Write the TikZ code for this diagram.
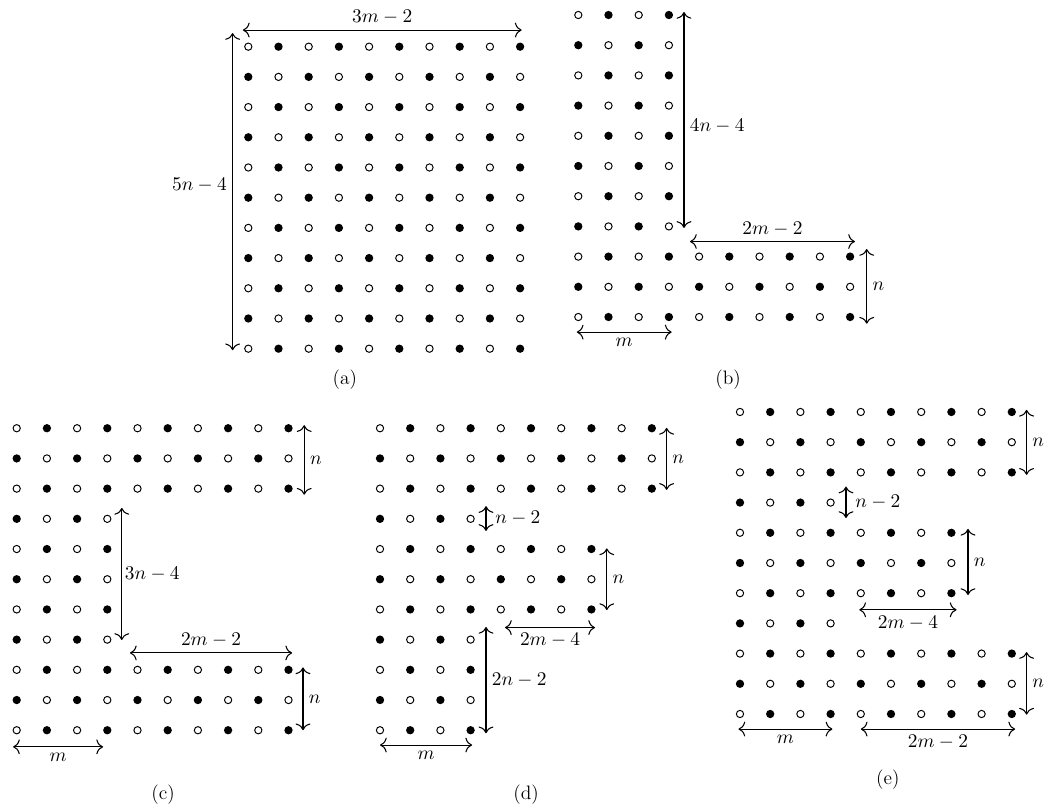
\documentclass[tikz,border=0pt]{standalone}
\usepackage{amsmath}
\usetikzlibrary{arrows.meta,calc}
\tikzset{
  wd/.style={circle, draw, line width=0.55pt, fill=white, inner sep=0pt, minimum size=4.1pt},
  bd/.style={circle, fill=black, inner sep=0pt, minimum size=4.7pt},
  dim/.style={{To[length=3.8pt,width=8.4pt]}-{To[length=3.8pt,width=8.4pt]}, line width=0.6pt},
  lb/.style={font=\fontsize{11}{13}\selectfont, inner sep=3pt},
  sub/.style={font=\fontsize{11}{13}\selectfont, inner sep=0pt},
}
% block of dots, checkerboard: open where row+col is even
\newcommand{\dotblock}[5]{%
  \foreach \rr in {#2,...,#3}{%
    \foreach \cc in {#4,...,#5}{%
      \pgfmathtruncatemacro{\odd}{mod(\rr+\cc,2)}%
      \ifnum\odd=0 \def\ds{wd}\else\def\ds{bd}\fi
      \node[\ds] (#1-\rr-\cc) at (\cc,-\rr) {};
    }}}

\begin{document}
\begin{tikzpicture}[x=0.6cm, y=0.6cm]
\useasboundingbox (0,0) rectangle (34.768,-26.821);

% (a)
\begin{scope}[shift={(8.222,-1.546)}]
  \dotblock{a}{0}{10}{0}{9}
\end{scope}
\draw[dim] ([shift={(-0.18,0.55)}]a-0-0.center) -- node[lb,above] {$3m-2$} ([shift={(0.05,0.55)}]a-0-9.center);
\draw[dim] ([shift={(-0.52,0.45)}]a-0-0.center) -- node[lb,left,pos=.48] {$5n-4$} ([shift={(-0.52,-0.05)}]a-10-0.center);
\node[sub] (capa) at (11.42,-12.58) {(a)};

% (b)
\begin{scope}[shift={(19.149,-0.497)}]
  \dotblock{b}{0}{7}{0}{3}
  \dotblock{b}{8}{10}{0}{9}
\end{scope}
\draw[dim] ([shift={(0.5,0.1)}]b-0-3.center) -- node[lb,right,pos=.53] {$4n-4$} ([shift={(0.5,-0.05)}]b-7-3.center);
\draw[dim] ([shift={(-0.3,0.5)}]b-8-4.center) -- node[lb,above] {$2m-2$} ([shift={(0.16,0.5)}]b-8-9.center);
\draw[dim] ([shift={(0.55,0.25)}]b-8-9.center) -- node[lb,right] {$n$} ([shift={(0.55,-0.22)}]b-10-9.center);
\draw[dim] ([shift={(-0.05,-0.5)}]b-10-0.center) -- node[lb,below] {$m$} ([shift={(0.09,-0.5)}]b-10-3.center);
\node[sub] (capb) at (24.11,-12.58) {(b)};

% (c)
\begin{scope}[shift={(0.553,-14.18)}]
  \dotblock{c}{0}{2}{0}{9}
  \dotblock{c}{3}{7}{0}{3}
  \dotblock{c}{8}{10}{0}{9}
\end{scope}
\draw[dim] ([shift={(0.52,0.1)}]c-0-9.center) -- node[lb,right] {$n$} ([shift={(0.52,-0.2)}]c-2-9.center);
\draw[dim] ([shift={(0.48,0.36)}]c-3-3.center) -- node[lb,right,inner sep=1.5pt] {$3n-4$} ([shift={(0.48,-0.01)}]c-7-3.center);
\draw[dim] ([shift={(-0.25,0.56)}]c-8-4.center) -- node[lb,above] {$2m-2$} ([shift={(0.12,0.56)}]c-8-9.center);
\draw[dim] ([shift={(0.48,0.08)}]c-8-9.center) -- node[lb,right] {$n$} ([shift={(0.48,0)}]c-10-9.center);
\draw[dim] ([shift={(-0.12,-0.55)}]c-10-0.center) -- node[lb,below] {$m$} ([shift={(-0.14,-0.55)}]c-10-3.center);
\node[sub] (capc) at (5.40,-26.32) {(c)};

% (d)
\begin{scope}[shift={(12.583,-14.18)}]
  \dotblock{d}{0}{2}{0}{9}
  \dotblock{d}{3}{3}{0}{3}
  \dotblock{d}{4}{6}{0}{7}
  \dotblock{d}{7}{10}{0}{3}
\end{scope}
\draw[dim] ([shift={(0.49,0.01)}]d-0-9.center) -- node[lb,right] {$n$} ([shift={(0.49,-0.04)}]d-2-9.center);
\draw[dim] ([shift={(0.51,0.42)}]d-3-3.center) -- node[lb,right,xshift=2pt] {$n-2$} ([shift={(0.51,-0.4)}]d-3-3.center);
\draw[dim] ([shift={(0.51,0.02)}]d-4-7.center) -- node[lb,right] {$n$} ([shift={(0.51,-0.02)}]d-6-7.center);
\draw[dim] ([shift={(0.14,-0.6)}]d-6-4.center) -- node[lb,below] {$2m-4$} ([shift={(0.12,-0.6)}]d-6-7.center);
\draw[dim] ([shift={(0.51,0.42)}]d-7-3.center) -- node[lb,right] {$2n-2$} ([shift={(0.51,-0.1)}]d-10-3.center);
\draw[dim] ([shift={(0,-0.49)}]d-10-0.center) -- node[lb,below] {$m$} ([shift={(0.05,-0.49)}]d-10-3.center);
\node[sub] (capd) at (17.42,-26.32) {(d)};

% (e)
\begin{scope}[shift={(24.503,-13.642)}]
  \dotblock{e}{0}{2}{0}{9}
  \dotblock{e}{3}{3}{0}{3}
  \dotblock{e}{4}{6}{0}{7}
  \dotblock{e}{7}{7}{0}{3}
  \dotblock{e}{8}{10}{0}{9}
\end{scope}
\draw[dim] ([shift={(0.49,0.07)}]e-0-9.center) -- node[lb,right] {$n$} ([shift={(0.49,-0.08)}]e-2-9.center);
\draw[dim] ([shift={(0.51,0.53)}]e-3-3.center) -- node[lb,right,xshift=2pt] {$n-2$} ([shift={(0.51,-0.51)}]e-3-3.center);
\draw[dim] ([shift={(0.55,0.13)}]e-4-7.center) -- node[lb,right] {$n$} ([shift={(0.55,-0.06)}]e-6-7.center);
\draw[dim] ([shift={(-0.05,-0.55)}]e-6-4.center) -- node[lb,below] {$2m-4$} ([shift={(0.17,-0.55)}]e-6-7.center);
\draw[dim] ([shift={(0.49,0.05)}]e-8-9.center) -- node[lb,right] {$n$} ([shift={(0.49,-0.02)}]e-10-9.center);
\draw[dim] ([shift={(-0.05,-0.5)}]e-10-0.center) -- node[lb,below] {$m$} ([shift={(0.06,-0.5)}]e-10-3.center);
\draw[dim] ([shift={(0,-0.5)}]e-10-4.center) -- node[lb,below] {$2m-2$} ([shift={(0.11,-0.5)}]e-10-9.center);
\node[sub] (cape) at (29.40,-25.83) {(e)};
\end{tikzpicture}
\end{document}
